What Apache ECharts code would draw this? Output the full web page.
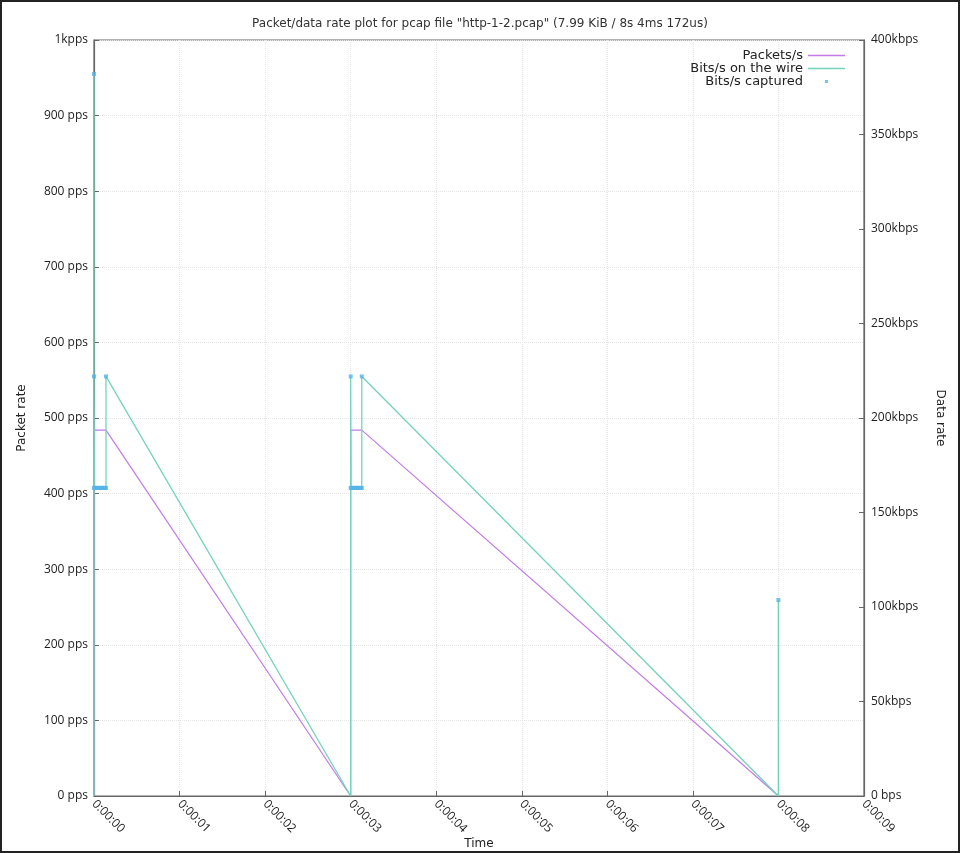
<!DOCTYPE html>
<html>
<head>
<meta charset="utf-8">
<script src="https://cdn.jsdelivr.net/npm/echarts@6/dist/echarts.min.js"></script>
<style>
html,body{margin:0;padding:0;background:#fff;}
#chart{width:960px;height:853px;}
</style>
</head>
<body>
<div id="chart"></div>
<script>
// ---- data ----
const titleText = 'Packet/data rate plot for pcap file "http-1-2.pcap" (7.99 KiB / 8s 4ms 172us)';
const xTickLabels = ['0:00:00','0:00:01','0:00:02','0:00:03','0:00:04','0:00:05','0:00:06','0:00:07','0:00:08','0:00:09'];
const leftTickLabels = ['0 pps','100 pps','200 pps','300 pps','400 pps','500 pps','600 pps','700 pps','800 pps','900 pps','1kpps'];
const rightTickLabels = ['0 bps','50kbps','100kbps','150kbps','200kbps','250kbps','300kbps','350kbps','400kbps'];

// Packets/s (seconds, pps)
const pktTime  = [0, 0, 0.14, 3.0, 3.0, 3.13, 8.0, 8.0];
const pktValue = [0, 484, 484, 0, 484, 484, 0, 259];

// Bits/s on the wire (seconds, kbps)
const wireTime  = [0, 0, 0, 0.005, 0.14, 0.14, 3.0, 3.0, 3.005, 3.13, 3.13, 8.0, 8.0];
const wireValue = [0, 382, 222, 163, 163, 222, 0, 222, 163, 163, 222, 0, 103.7];

// Bits/s captured (seconds, kbps)
const capTime  = [0, 0, 0.00, 0.01, 0.02, 0.03, 0.04, 0.05, 0.06, 0.07, 0.08, 0.09, 0.10, 0.11, 0.12, 0.13, 0.14, 0.14,
                  3.0, 3.00, 3.01, 3.02, 3.03, 3.04, 3.05, 3.06, 3.07, 3.08, 3.09, 3.10, 3.11, 3.12, 3.13, 3.13, 8.0];
const capValue = [382, 222, 163, 163, 163, 163, 163, 163, 163, 163, 163, 163, 163, 163, 163, 163, 163, 222,
                  222, 163, 163, 163, 163, 163, 163, 163, 163, 163, 163, 163, 163, 163, 163, 222, 103.7];

const zip = (a, b) => a.map((v, i) => [v, b[i]]);

const chart = echarts.init(document.getElementById('chart'), null, {renderer: 'canvas'});
const tickFont = {fontFamily: 'Open Sans', fontSize: 12, color: '#222'};
const axisLineStyle = {color: '#666', width: 1.2};
const lineIcon = 'path://M0,0L0,0M0,4.2L37,4.2L37,5.8L0,5.8ZM37,10L37,10';
const dotIcon = 'path://M0,0L0,0M17,3.5L20,3.5L20,6.5L17,6.5ZM37,10L37,10';

chart.setOption({
  animation: false,
  backgroundColor: '#fff',
  title: {
    text: titleText,
    left: 'center',
    top: 13,
    textStyle: {fontFamily: 'DejaVu Sans', fontSize: 12, fontWeight: 'normal', color: '#333'}
  },
  legend: {
    orient: 'vertical',
    right: 110,
    top: 44,
    align: 'right',
    itemWidth: 37,
    itemHeight: 10,
    itemGap: 0,
    textStyle: {fontFamily: 'DejaVu Sans', fontSize: 13, lineHeight: 13, color: '#222'},
    data: [
      {name: 'Packets/s', icon: lineIcon},
      {name: 'Bits/s on the wire', icon: lineIcon},
      {name: 'Bits/s captured', icon: dotIcon}
    ]
  },
  grid: {
    left: 94, right: 96, top: 40, bottom: 57,
    outerBoundsMode: 'none',
    containLabel: false,
    show: true, borderColor: '#666', borderWidth: 1.2
  },
  xAxis: {
    type: 'value',
    min: 0, max: 9, interval: 1,
    name: 'Time',
    nameLocation: 'middle',
    nameGap: 42,
    nameMoveOverlap: false,
    nameTextStyle: {fontFamily: 'DejaVu Sans', fontSize: 12, color: '#222'},
    axisLine: {show: true, onZero: false, lineStyle: axisLineStyle},
    axisTick: {show: true, inside: true, length: 5, lineStyle: {color: '#666'}},
    axisLabel: Object.assign({rotate: -45, margin: 6, formatter: v => xTickLabels[Math.round(v)]}, tickFont),
    splitLine: {show: true, lineStyle: {color: '#e4e4e4', type: 'dotted'}}
  },
  yAxis: [
    {
      type: 'value', position: 'left',
      min: 0, max: 1000, interval: 100,
      name: 'Packet rate',
      nameLocation: 'middle',
      nameGap: 66,
      nameRotate: 90,
      nameTextStyle: {fontFamily: 'DejaVu Sans', fontSize: 12, color: '#222'},
      axisLine: {show: true, lineStyle: axisLineStyle},
      axisTick: {show: true, inside: true, length: 5, lineStyle: {color: '#666'}},
      axisLabel: Object.assign({margin: 6, formatter: v => leftTickLabels[Math.round(v / 100)]}, tickFont),
      splitLine: {show: true, lineStyle: {color: '#e4e4e4', type: 'dotted'}}
    },
    {
      type: 'value', position: 'right',
      min: 0, max: 400, interval: 50,
      name: 'Data rate',
      nameLocation: 'middle',
      nameGap: 70,
      nameRotate: -90,
      nameTextStyle: {fontFamily: 'DejaVu Sans', fontSize: 12, color: '#222'},
      axisLine: {show: true, lineStyle: axisLineStyle},
      axisTick: {show: true, inside: true, length: 5, lineStyle: {color: '#666'}},
      axisLabel: Object.assign({margin: 7, formatter: v => rightTickLabels[Math.round(v / 50)]}, tickFont),
      splitLine: {show: false}
    }
  ],
  series: [
    {
      name: 'Packets/s',
      type: 'line',
      yAxisIndex: 0,
      data: zip(pktTime, pktValue),
      symbol: 'none',
      color: '#c27be6',
      lineStyle: {width: 1.2, color: '#c27be6'},
      z: 2
    },
    {
      name: 'Bits/s on the wire',
      type: 'line',
      yAxisIndex: 1,
      data: zip(wireTime, wireValue),
      symbol: 'none',
      color: '#74d3ba',
      lineStyle: {width: 1.3, color: '#74d3ba'},
      z: 3
    },
    {
      name: 'Bits/s captured',
      type: 'scatter',
      yAxisIndex: 1,
      data: zip(capTime, capValue),
      symbol: 'rect',
      symbolSize: 4,
      color: '#56b4e9',
      itemStyle: {color: '#56b4e9'},
      z: 4
    }
  ],
  graphic: [
    {type: 'rect', shape: {x: 1, y: 1, width: 958, height: 851}, style: {fill: 'none', stroke: '#222', lineWidth: 2}, silent: true}
  ]
});
</script>
</body>
</html>
